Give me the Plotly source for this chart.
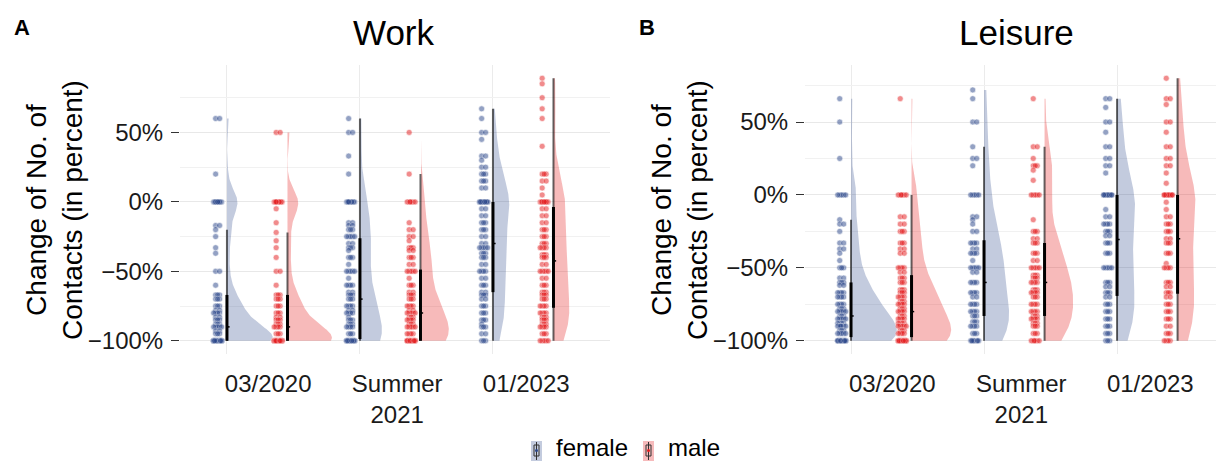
import numpy as np
import plotly.graph_objects as go

# ---------------------------------------------------------------- data
CATEGORIES = ["03/2020", "Summer<br>2021", "01/2023"]
SEXES = ["female", "male"]
Y_TICKS = [-100, -50, 0, 50]
Y_TICK_TEXT = ["\u2212100%", "\u221250%", "0%", "50%"]
Y_MINOR = [-75, -25, 25, 75]

# change of work contacts (percent): values and how many respondents gave them
WORK_F_0320_V = [60, 20, 0, -17, -20, -25, -33, -37, -50, -60, -67, -70, -75, -78, -80, -83, -85, -88, -90, -93, -95, -100]
WORK_F_0320_N = [2, 1, 12, 2, 1, 1, 1, 1, 2, 1, 3, 3, 3, 2, 4, 2, 3, 3, 5, 2, 3, 44]
WORK_M_0320_V = [50, 0, -5, -15, -22, -28, -33, -40, -50, -60, -67, -70, -75, -80, -83, -85, -88, -90, -95, -100]
WORK_M_0320_N = [2, 10, 1, 1, 1, 1, 1, 1, 2, 1, 3, 3, 3, 3, 2, 3, 3, 4, 3, 38]
WORK_F_2021_V = [60, 50, 33, 20, 0, -15, -17, -20, -25, -30, -33, -35, -40, -45, -50, -55, -60, -65, -67, -70, -75, -78, -80, -83, -85, -88, -90, -95, -100]
WORK_F_2021_N = [1, 2, 1, 1, 10, 2, 2, 3, 5, 2, 3, 1, 3, 1, 5, 1, 4, 2, 3, 3, 4, 2, 4, 1, 3, 3, 4, 3, 27]
WORK_M_2021_V = [50, 20, 0, -15, -20, -25, -28, -33, -35, -40, -45, -50, -55, -60, -65, -67, -70, -75, -78, -80, -83, -85, -88, -90, -95, -100]
WORK_M_2021_N = [1, 1, 6, 1, 2, 2, 1, 3, 2, 3, 2, 5, 1, 3, 2, 3, 3, 4, 2, 5, 3, 4, 3, 5, 4, 25]
WORK_F_0123_V = [67, 60, 50, 45, 33, 30, 25, 20, 15, 10, 0, -5, -10, -15, -20, -25, -30, -33, -37, -40, -45, -50, -55, -60, -65, -67, -70, -75, -80, -85, -88, -90, -95, -100]
WORK_F_0123_N = [1, 1, 2, 1, 2, 1, 2, 3, 3, 2, 18, 2, 2, 3, 3, 2, 2, 5, 3, 3, 2, 4, 2, 3, 2, 3, 2, 3, 3, 3, 1, 3, 2, 3]
WORK_M_0123_V = [89, 85, 75, 67, 60, 40, 20, 15, 10, 5, 0, -5, -10, -15, -20, -25, -30, -33, -38, -40, -45, -50, -55, -60, -65, -67, -70, -75, -80, -83, -85, -88, -90, -95, -100]
WORK_M_0123_N = [1, 1, 1, 1, 1, 1, 3, 2, 1, 1, 12, 2, 2, 2, 3, 3, 3, 4, 3, 3, 2, 5, 2, 3, 3, 3, 3, 4, 4, 3, 3, 3, 4, 3, 5]

# change of leisure contacts (percent)
LEIS_F_0320_V = [66, 50, 25, 0, -17, -20, -25, -33, -37, -40, -45, -50, -57, -60, -62, -67, -70, -75, -78, -80, -83, -85, -88, -90, -93, -95, -100]
LEIS_F_0320_N = [1, 1, 1, 5, 1, 2, 1, 2, 2, 1, 1, 3, 2, 3, 2, 4, 4, 4, 3, 5, 3, 5, 4, 6, 3, 5, 25]
LEIS_M_0320_V = [66, 0, -15, -20, -25, -33, -37, -40, -50, -53, -57, -60, -65, -67, -70, -73, -75, -78, -80, -83, -85, -88, -90, -93, -95, -100]
LEIS_M_0320_N = [1, 6, 2, 2, 3, 3, 2, 2, 4, 2, 3, 3, 3, 3, 4, 3, 4, 3, 4, 3, 4, 4, 5, 3, 4, 27]
LEIS_F_2021_V = [72, 66, 50, 33, 25, 20, 0, -15, -17, -20, -25, -33, -37, -40, -45, -50, -53, -60, -67, -70, -75, -80, -83, -87, -90, -95, -100]
LEIS_F_2021_N = [1, 1, 2, 1, 2, 1, 5, 2, 1, 1, 2, 4, 2, 4, 1, 5, 2, 4, 4, 2, 4, 4, 3, 3, 4, 3, 8]
LEIS_M_2021_V = [66, 33, 25, 20, 17, 10, 0, -17, -25, -30, -33, -40, -45, -50, -55, -57, -60, -65, -67, -70, -75, -80, -83, -85, -88, -90, -95, -100]
LEIS_M_2021_N = [1, 2, 1, 3, 1, 1, 5, 1, 3, 2, 3, 3, 2, 5, 3, 3, 4, 3, 4, 3, 4, 4, 3, 4, 3, 3, 3, 6]
LEIS_F_0123_V = [66, 60, 50, 43, 33, 25, 20, 15, 0, -10, -15, -20, -25, -28, -33, -40, -50, -60, -63, -67, -70, -75, -80, -85, -90, -95, -100]
LEIS_F_0123_N = [2, 1, 2, 1, 2, 2, 2, 1, 14, 1, 2, 4, 3, 2, 3, 3, 5, 3, 2, 3, 2, 3, 3, 3, 3, 3, 3]
LEIS_M_0123_V = [80, 66, 62, 50, 43, 33, 25, 20, 15, 8, 0, -5, -10, -15, -20, -25, -30, -33, -40, -47, -50, -60, -63, -67, -70, -75, -80, -85, -90, -95, -100]
LEIS_M_0123_N = [1, 2, 1, 2, 1, 2, 2, 2, 1, 1, 14, 1, 1, 2, 3, 3, 2, 3, 3, 1, 4, 3, 2, 3, 2, 3, 3, 3, 2, 3, 4]

# ---------------------------------------------------------------- style
W, H = 1216, 462
FONT = "Liberation Sans, Arial, Helvetica, sans-serif"
POINT_COL = {"female": "rgb(41,69,137)", "male": "rgb(228,26,28)"}
FILL_COL = {"female": "rgba(41,69,137,0.28)", "male": "rgba(228,26,28,0.30)"}
LEGEND_FILL = {"female": "#C3CBDE", "male": "#F6BABB"}
DODGE = 0.455          # male sits this far right of female within a category
POINT_SHIFT = -0.07    # rain column left of the box line
JITTER = [-0.015, 0.015, 0.0, -0.03, 0.03, -0.008, 0.022, -0.022, 0.008]
VIOLIN_MAX = 0.345     # widest half-violin in a panel, in category units


def px(x):
    return x / W


def py(y):
    return 1 - y / H


def expand(vals, counts):
    return np.repeat(np.asarray(vals, float), counts)


def bw_nrd0(x):
    sd = x.std(ddof=1)
    q75, q25 = np.percentile(x, [75, 25])
    lo = min(sd, (q75 - q25) / 1.34) or sd
    return 0.9 * lo * len(x) ** -0.2


def kde(x, grid):
    bw = bw_nrd0(x)
    z = (grid[:, None] - x[None, :]) / bw
    return np.exp(-0.5 * z * z).sum(axis=1) / (len(x) * bw * np.sqrt(2 * np.pi))


panels = {
    "work": [
        [(WORK_F_0320_V, WORK_F_0320_N), (WORK_M_0320_V, WORK_M_0320_N)],
        [(WORK_F_2021_V, WORK_F_2021_N), (WORK_M_2021_V, WORK_M_2021_N)],
        [(WORK_F_0123_V, WORK_F_0123_N), (WORK_M_0123_V, WORK_M_0123_N)],
    ],
    "leisure": [
        [(LEIS_F_0320_V, LEIS_F_0320_N), (LEIS_M_0320_V, LEIS_M_0320_N)],
        [(LEIS_F_2021_V, LEIS_F_2021_N), (LEIS_M_2021_V, LEIS_M_2021_N)],
        [(LEIS_F_0123_V, LEIS_F_0123_N), (LEIS_M_0123_V, LEIS_M_0123_N)],
    ],
}

fig = go.Figure()
y_ranges = {}

for key, xref, yref in [("work", "x", "y"), ("leisure", "x2", "y2")]:
    groups = []
    for ci, pair in enumerate(panels[key]):
        for si, (v, n) in enumerate(pair):
            x = expand(v, n)
            grid = np.linspace(x.min(), x.max(), 300)
            groups.append(dict(sex=SEXES[si], pos=ci + si * DODGE, vals=v, counts=n,
                               x=x, grid=grid, dens=kde(x, grid)))
    dmax = max(g["dens"].max() for g in groups)
    allv = np.concatenate([g["x"] for g in groups])
    span = allv.max() - allv.min()
    y_ranges[key] = [allv.min() - 0.05 * span, allv.max() + 0.05 * span]

    # half violins
    for g in groups:
        half = g["dens"] / dmax * VIOLIN_MAX
        xs = np.concatenate([g["pos"] + half, [g["pos"], g["pos"]]])
        ys = np.concatenate([g["grid"], [g["grid"][-1], g["grid"][0]]])
        fig.add_trace(go.Scatter(x=xs, y=ys, xaxis=xref, yaxis=yref, mode="lines",
                                 fill="toself", fillcolor=FILL_COL[g["sex"]],
                                 line=dict(width=0), hoverinfo="skip", showlegend=False))

    # narrow box plots
    wx, wy, bx, by, mx, my = [], [], [], [], [], []
    for g in groups:
        x = g["x"]
        q1, med, q3 = np.percentile(x, [25, 50, 75])
        iqr = q3 - q1
        hi = x[x <= q3 + 1.5 * iqr].max()
        lo = x[x >= q1 - 1.5 * iqr].min()
        wx += [g["pos"], g["pos"], None]
        wy += [lo, hi, None]
        bx += [g["pos"], g["pos"], None]
        by += [q1, q3, None]
        mx += [g["pos"] - 0.004, g["pos"] + 0.02, None]
        my += [med, med, None]
    fig.add_trace(go.Scatter(x=wx, y=wy, xaxis=xref, yaxis=yref, mode="lines",
                             line=dict(color="rgba(0,0,0,0.6)", width=2),
                             hoverinfo="skip", showlegend=False))
    fig.add_trace(go.Scatter(x=bx, y=by, xaxis=xref, yaxis=yref, mode="lines",
                             line=dict(color="black", width=3),
                             hoverinfo="skip", showlegend=False))
    fig.add_trace(go.Scatter(x=mx, y=my, xaxis=xref, yaxis=yref, mode="lines",
                             line=dict(color="black", width=1.5),
                             hoverinfo="skip", showlegend=False))

    # rain: every respondent as a dot, spread sideways within its column
    for g in groups:
        pxs, pys = [], []
        for val, cnt in zip(g["vals"], g["counts"]):
            for k in range(cnt):
                pxs.append(g["pos"] + POINT_SHIFT + JITTER[k % len(JITTER)])
                pys.append(val)
        fig.add_trace(go.Scatter(x=pxs, y=pys, xaxis=xref, yaxis=yref, mode="markers",
                                 marker=dict(size=6, color=POINT_COL[g["sex"]], opacity=0.5,
                                             line=dict(color="white", width=0.6)),
                                 name=g["sex"], showlegend=False))

# ---------------------------------------------------------------- axes
# category labels sit under the middle of each female/male pair
tick_pos = [0.31 + 0.97 * i for i in range(len(CATEGORIES))]
cat_pos = list(range(len(CATEGORIES)))
Y_DOMAIN = [0.234, 0.859]


def xaxis(domain, rng):
    return dict(domain=domain, range=rng, showgrid=False, zeroline=False, showline=False,
                tickmode="array", tickvals=tick_pos, ticktext=CATEGORIES,
                ticks="outside", ticklen=8, tickcolor="rgba(0,0,0,0)",
                tickfont=dict(family=FONT, size=24, color="#1a1a1a"),
                minor=dict(tickmode="array", tickvals=cat_pos, showgrid=True,
                           gridcolor="#EBEBEB", gridwidth=1, ticks=""),
                fixedrange=True)


def yaxis(anchor, rng):
    return dict(domain=Y_DOMAIN, anchor=anchor, range=rng, zeroline=False, showline=False,
                tickmode="array", tickvals=Y_TICKS, ticktext=Y_TICK_TEXT,
                showgrid=True, gridcolor="#E8E8E8", gridwidth=1,
                ticks="outside", ticklen=8, tickwidth=1.2, tickcolor="#333333",
                ticklabelstandoff=3,
                tickfont=dict(family=FONT, size=24, color="#1a1a1a"),
                minor=dict(tickmode="array", tickvals=Y_MINOR, showgrid=True,
                           gridcolor="#F1F1F1", gridwidth=1, ticks=""),
                fixedrange=True)


fig.update_layout(
    width=W, height=H, margin=dict(l=0, r=0, t=0, b=0),
    paper_bgcolor="white", plot_bgcolor="white", showlegend=False,
    xaxis=xaxis([px(180), px(610)], [-0.353, 2.88]),
    xaxis2=xaxis([px(805), 1.0], [-0.346, 2.744]),
    yaxis=yaxis("x", y_ranges["work"]),
    yaxis2=yaxis("x2", y_ranges["leisure"]),
)
fig.layout.xaxis2.anchor = "y2"

PAPER = dict(xref="paper", yref="paper", showarrow=False)
ann = []
for txt, x in [("A", 12), ("B", 637)]:
    ann.append(dict(text=f"<b>{txt}</b>", x=px(x), y=py(28), xanchor="left", yanchor="middle",
                    font=dict(family=FONT, size=22, color="black"), **PAPER))
for txt, x in [("Work", 394), ("Leisure", 1016)]:
    ann.append(dict(text=txt, x=px(x), y=py(33), xanchor="center", yanchor="middle",
                    font=dict(family=FONT, size=35, color="black"), **PAPER))
for x in [54, 679]:
    ann.append(dict(text="Change of No. of<br>Contacts (in percent)", textangle=-90,
                    x=px(x), y=py(210), xanchor="center", yanchor="middle",
                    font=dict(family=FONT, size=28, color="black"), **PAPER))

# legend keys
shapes = []
for sex, kx, tx in [("female", 531, 554), ("male", 643, 666)]:
    shapes.append(dict(type="rect", xref="paper", yref="paper",
                       x0=px(kx), x1=px(kx + 11), y0=py(461), y1=py(441),
                       fillcolor=LEGEND_FILL[sex], line=dict(width=0)))
    cx = kx + 5.5
    shapes.append(dict(type="line", xref="paper", yref="paper",
                       x0=px(cx), x1=px(cx), y0=py(460), y1=py(442),
                       line=dict(color="#333333", width=1)))
    shapes.append(dict(type="rect", xref="paper", yref="paper",
                       x0=px(cx - 2.5), x1=px(cx + 2.5), y0=py(456), y1=py(445),
                       fillcolor="rgba(0,0,0,0)", line=dict(color="#333333", width=1)))
    shapes.append(dict(type="circle", xref="paper", yref="paper",
                       x0=px(cx - 1.5), x1=px(cx + 1.5), y0=py(452), y1=py(449),
                       fillcolor=POINT_COL[sex], line=dict(width=0)))
    ann.append(dict(text=sex, x=px(tx), y=py(447.5), xanchor="left", yanchor="middle",
                    font=dict(family=FONT, size=24, color="black"), **PAPER))

fig.update_layout(annotations=ann, shapes=shapes)
fig.write_html("out.html")
